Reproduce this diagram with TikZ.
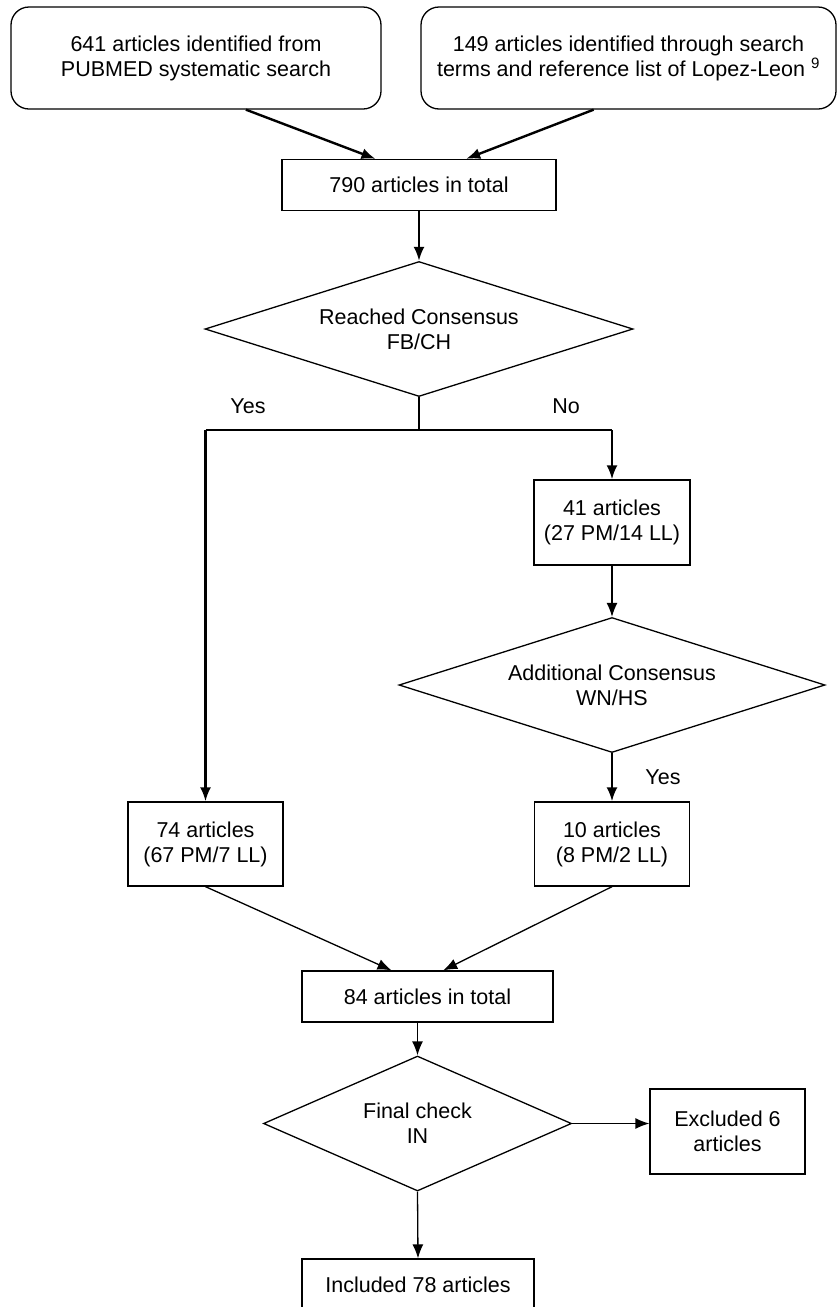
\documentclass[tikz,border=0pt]{standalone}
\usepackage{fontspec}
\setmainfont{Liberation Sans}
\usetikzlibrary{shapes.geometric,arrows.meta}
\tikzstyle{src box}=[draw, rounded corners=18pt, align=center, inner sep=0pt]
\tikzstyle{count box}=[draw, align=center, inner sep=0pt]
\tikzstyle{decision}=[draw, diamond, align=center, inner sep=0pt]
\tikzstyle{flow}=[->]
\tikzstyle{main flow}=[->, line width=2.4pt]

\begin{document}
\begin{tikzpicture}[x=1pt,y=-1pt,>={Latex[length=14pt,width=11pt]},line width=1.3pt,
    font=\fontsize{21.5}{25}\selectfont]
    \useasboundingbox (0,0) rectangle (838,1307);

    % Sources
    \node[src box, minimum width=370pt, minimum height=102pt] (pubmed) at (196,58) {641 articles identified from\\PUBMED systematic search};
    \node[src box, minimum width=415pt, minimum height=102pt] (lopez) at (628.5,58) {149 articles identified through search\\terms and reference list of Lopez-Leon \textsuperscript{9}};

    % Screening
    \node[count box, minimum width=274pt, minimum height=51pt] (total) at (419,185) {790 articles in total};
    \node[decision, aspect=3.17, minimum width=428pt, minimum height=135pt] (fbch) at (419,329) {Reached Consensus\\FB/CH};
    \coordinate (split) at (419,430);
    \node (yes1) at (248,406) {Yes};
    \node (no1) at (566,406) {No};
    \node[count box, minimum width=156pt, minimum height=85pt] (disagree) at (612,522.5) {41 articles\\(27 PM/14 LL)};
    \node[decision, aspect=3.16, minimum width=426pt, minimum height=135pt] (wnhs) at (612,685) {Additional Consensus\\WN/HS};
    \node (yes2) at (663,777) {Yes};
    \node[count box, minimum width=155pt, minimum height=84pt] (agree) at (205.5,844) {74 articles\\(67 PM/7 LL)};
    \node[count box, minimum width=155pt, minimum height=84pt] (resolved) at (612,844) {10 articles\\(8 PM/2 LL)};

    % Final selection
    \node[count box, minimum width=251pt, minimum height=51pt] (pooled) at (427.5,996.5) {84 articles in total};
    \node[decision, aspect=2.28, minimum width=308pt, minimum height=135pt] (final) at (417.5,1123.5) {Final check\\IN};
    \node[count box, minimum width=155pt, minimum height=85pt] (excluded) at (727.5,1131.5) {Excluded 6\\articles};
    \node[count box, minimum width=232pt, minimum height=52pt] (included) at (418,1285) {Included 78 articles};

    % Connectors
    \draw[main flow] (pubmed.-46) -- (total.149);
    \draw[main flow] (lopez.-124) -- (total.29);
    \draw[main flow] (total.south) -- (fbch.north);
    \draw (fbch.south) -- (split);
    \draw (split -| agree.north) -- (split -| disagree.north);
    \draw[main flow] (split -| agree.north) -- (agree.north);
    \draw[main flow] (split -| disagree.north) -- (disagree.north);
    \draw[flow] (disagree.south) -- (wnhs.north);
    \draw[main flow] (wnhs.south) -- (resolved.north);
    \draw[flow] (agree.south) -- (pooled.144);
    \draw[flow] (resolved.south) -- (pooled.59);
    \draw[flow] (pooled.south -| final.north) -- (final.north);
    \draw[flow] (final.east) -- (final.east -| excluded.west);
    \draw[flow] (final.south) -- (included.north);
\end{tikzpicture}
\end{document}
